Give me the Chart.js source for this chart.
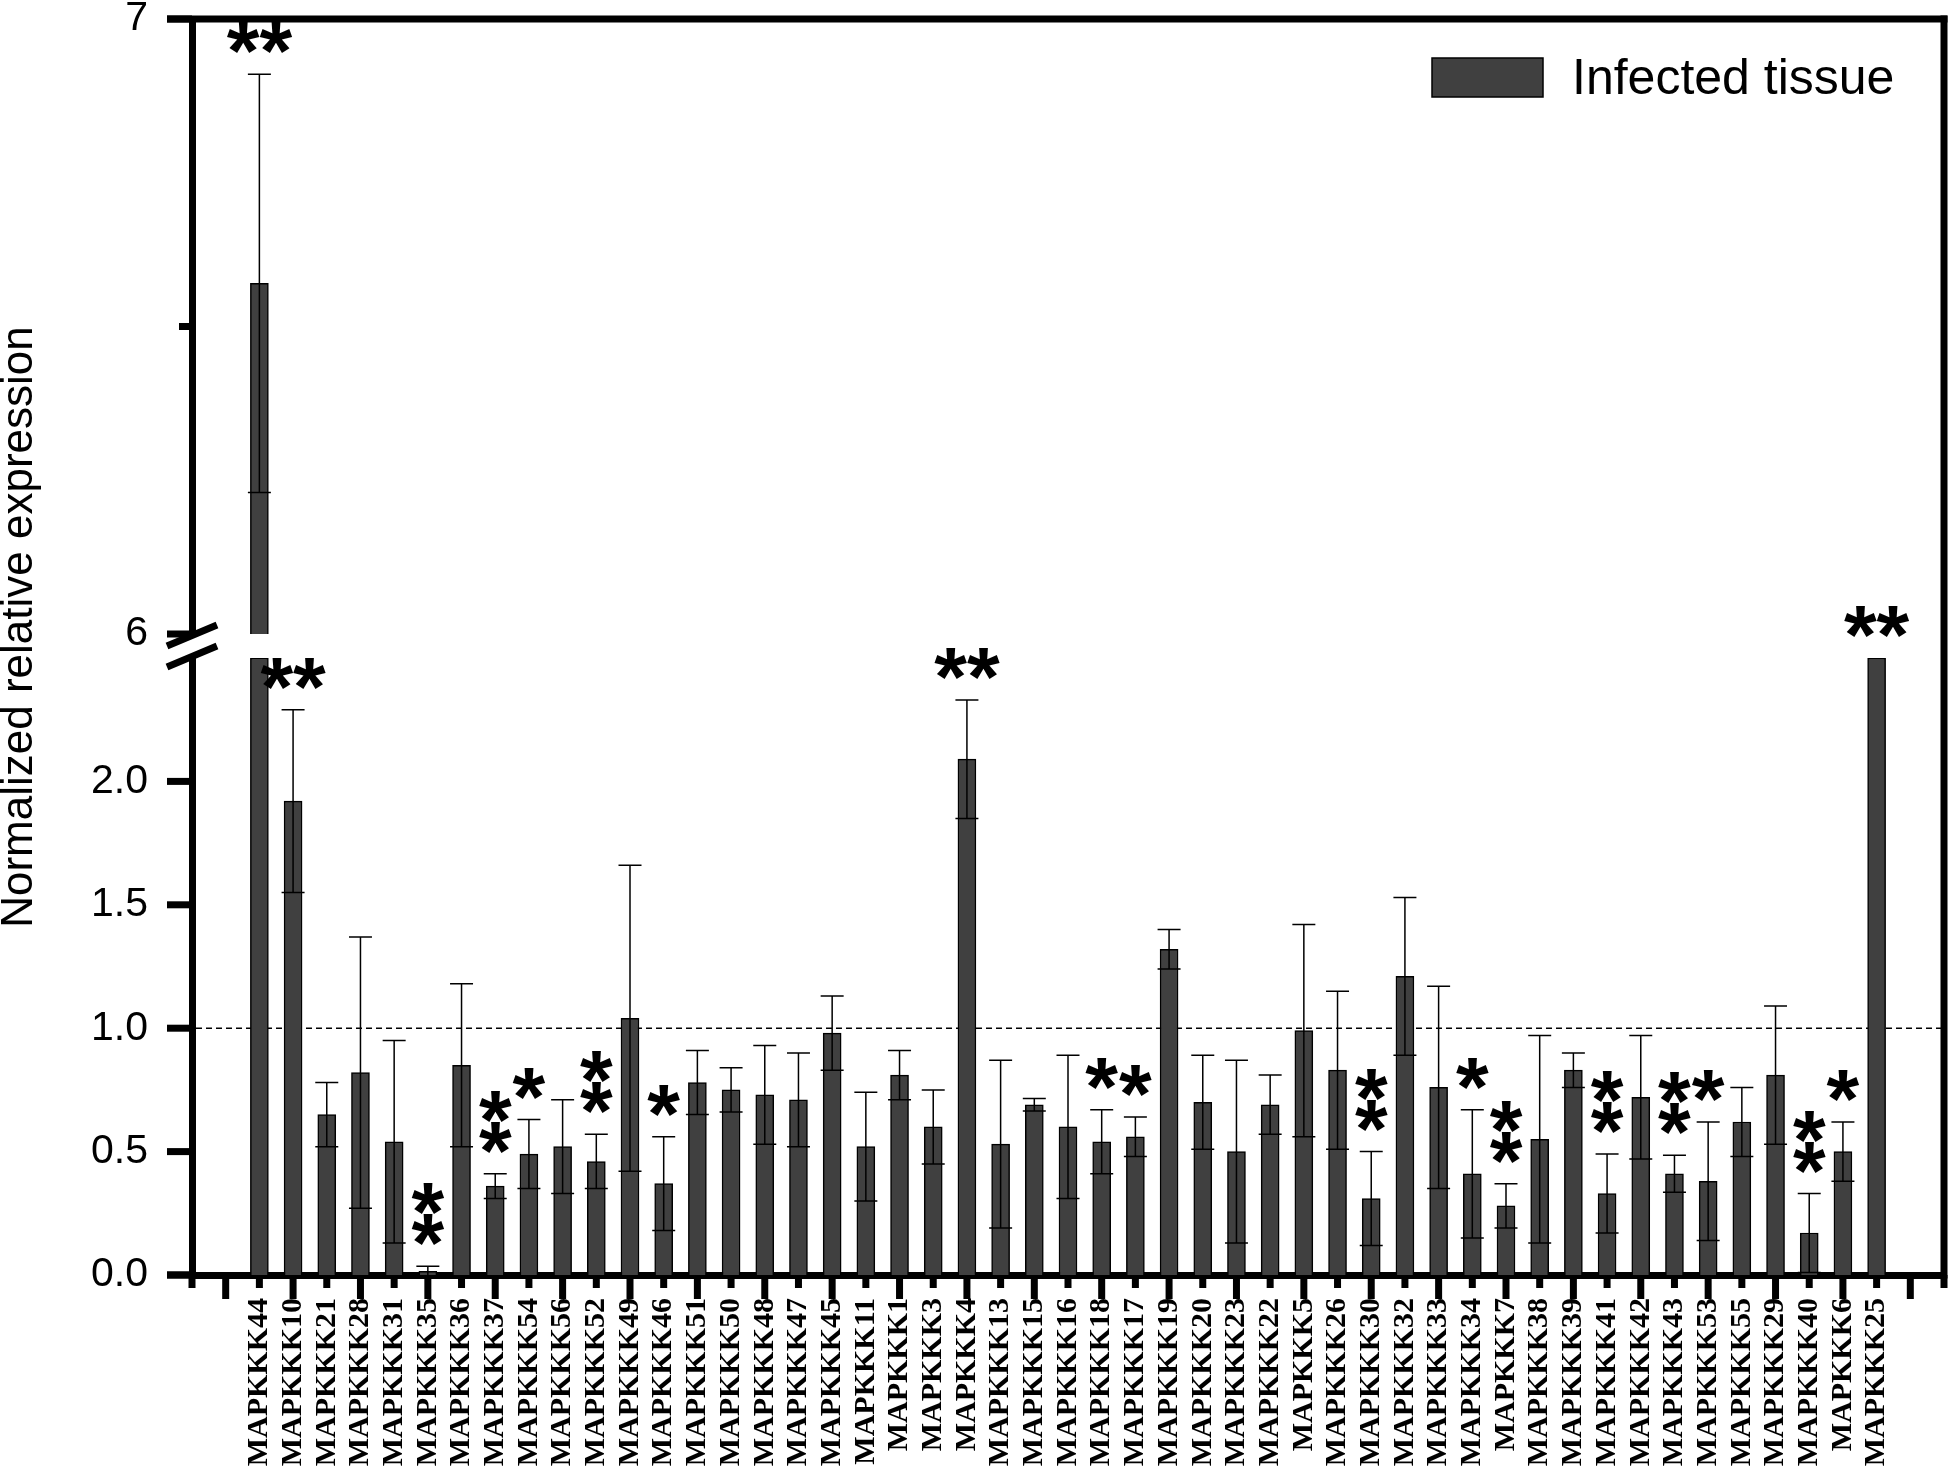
<!DOCTYPE html>
<html lang="en">
  <head>
    <meta charset="UTF-8" />
    <title>MAPKKK expression in infected tissue</title>
    <script src="https://cdn.jsdelivr.net/npm/chart.js"></script>
    <style>
      html, body { margin: 0; padding: 0; background: #fff; overflow: hidden; }
      #wrap { width: 1948px; height: 1500px; }
    </style>
  </head>
  <body>
    <div id="wrap"><canvas id="exprChart" width="1948" height="1500"></canvas></div>
    <script>
      // genes in plotted order
      var genes = [
        "MAPKKK44", "MAPKKK10", "MAPKKK21", "MAPKKK28", "MAPKKK31", "MAPKKK35", "MAPKKK36",
        "MAPKKK37", "MAPKKK54", "MAPKKK56", "MAPKKK52", "MAPKKK49", "MAPKKK46", "MAPKKK51",
        "MAPKKK50", "MAPKKK48", "MAPKKK47", "MAPKKK45", "MAPKKK11", "MAPKKK1", "MAPKKK3",
        "MAPKKK4", "MAPKKK13", "MAPKKK15", "MAPKKK16", "MAPKKK18", "MAPKKK17", "MAPKKK19",
        "MAPKKK20", "MAPKKK23", "MAPKKK22", "MAPKKK5", "MAPKKK26", "MAPKKK30", "MAPKKK32",
        "MAPKKK33", "MAPKKK34", "MAPKKK7", "MAPKKK38", "MAPKKK39", "MAPKKK41", "MAPKKK42",
        "MAPKKK43", "MAPKKK53", "MAPKKK55", "MAPKKK29", "MAPKKK40", "MAPKKK6", "MAPKKK25"
      ];
      // mean normalized expression
      var means = [
        6.57, 1.92, 0.65, 0.82, 0.54, 0.015, 0.85,
        0.36, 0.49, 0.52, 0.46, 1.04, 0.37, 0.78,
        0.75, 0.73, 0.71, 0.98, 0.52, 0.81, 0.6,
        2.09, 0.53, 0.69, 0.6, 0.54, 0.56, 1.32,
        0.7, 0.5, 0.69, 0.99, 0.83, 0.31, 1.21,
        0.76, 0.41, 0.28, 0.55, 0.83, 0.33, 0.72,
        0.41, 0.38, 0.62, 0.81, 0.17, 0.5, 2.9
      ];
      // standard deviation
      var errs = [
        0.34, 0.37, 0.13, 0.55, 0.41, 0.02, 0.33,
        0.05, 0.14, 0.19, 0.11, 0.62, 0.19, 0.13,
        0.09, 0.2, 0.19, 0.15, 0.22, 0.1, 0.15,
        0.24, 0.34, 0.025, 0.29, 0.13, 0.08, 0.08,
        0.19, 0.37, 0.12, 0.43, 0.32, 0.19, 0.32,
        0.41, 0.26, 0.09, 0.42, 0.07, 0.16, 0.25,
        0.075, 0.24, 0.14, 0.28, 0.16, 0.12, 0
      ];
      // significance marks ("\n" = stacked)
      var stars = [
        "**", "**", "", "", "", "*\n*", "",
        "*\n*", "*", "", "*\n*", "", "*", "",
        "", "", "", "", "", "", "",
        "**", "", "", "", "*", "*", "",
        "", "", "", "", "", "*\n*", "",
        "", "*", "*\n*", "", "", "*\n*", "",
        "*\n*", "*", "", "", "*\n*", "*", "**"
      ];
      var lowTicks = [0, 0.5, 1, 1.5, 2];
      var highTicks = [6, 7];

      var LOW_MAX = 2.5;
      var HIGH_MIN = 6;
      var HIGH_MAX = 7;
      var BAR = "#404040";
      var SANS = '"Liberation Sans", Arial, sans-serif';

      Chart.defaults.font.family = SANS;
      Chart.defaults.color = "#000";

      // two empty slots at each end of the x axis
      function pad(arr, fill) {
        return [fill, fill].concat(arr, [fill, fill]);
      }
      var labels = pad(genes, "");
      var lowBars = pad(means.map(function (v) { return Math.min(v, LOW_MAX); }), null);
      var highBars = pad(means.map(function (v) { return v > HIGH_MIN ? v : null; }), null);

      function fixWidth(s) {
        s.width = 192;
        s.paddingTop = 0;
        s.paddingBottom = 0;
      }

      var decor = {
        id: "decor",
        beforeDatasetsDraw: function (chart) {
          var ctx = chart.ctx, a = chart.chartArea;
          var y1 = chart.scales.yLo.getPixelForValue(1);
          ctx.save();
          ctx.strokeStyle = "#000";
          ctx.lineWidth = 1.5;
          ctx.setLineDash([6, 4]);
          ctx.beginPath();
          ctx.moveTo(a.left + 4, y1);
          ctx.lineTo(a.right, y1);
          ctx.stroke();
          ctx.restore();
        },
        afterDatasetsDraw: function (chart) {
          var ctx = chart.ctx;
          var xs = chart.scales.x, lo = chart.scales.yLo, hi = chart.scales.yHi;
          ctx.save();
          ctx.strokeStyle = "#000";
          ctx.fillStyle = "#000";
          ctx.lineWidth = 1.5;
          means.forEach(function (m, k) {
            var x = xs.getPixelForValue(k + 2);
            var e = errs[k];
            [lo, hi].forEach(function (s) {
              var a = Math.max(m - e, s.min), b = Math.min(m + e, s.max);
              if (b <= a) return;
              var pa = s.getPixelForValue(a), pb = s.getPixelForValue(b);
              ctx.beginPath();
              ctx.moveTo(x, pa);
              ctx.lineTo(x, pb);
              if (m - e >= s.min) { ctx.moveTo(x - 11.5, pa); ctx.lineTo(x + 11.5, pa); }
              if (m + e <= s.max) { ctx.moveTo(x - 11.5, pb); ctx.lineTo(x + 11.5, pb); }
              ctx.stroke();
            });
            if (!stars[k]) return;
            var top = m + e;
            var py = top >= HIGH_MIN ? hi.getPixelForValue(top) : lo.getPixelForValue(Math.min(top, LOW_MAX));
            ctx.font = "bold 84px " + SANS;
            ctx.textAlign = "center";
            ctx.textBaseline = "alphabetic";
            var mt = ctx.measureText("*");
            var shift = (mt.actualBoundingBoxAscent - mt.actualBoundingBoxDescent) / 2;
            var rows = stars[k].split("\n");
            rows.forEach(function (r, i) {
              var cy = py - 36 - (rows.length - 1 - i) * 31;
              ctx.fillText(r, x, cy + shift);
            });
          });
          ctx.restore();
        },
        afterDraw: function (chart) {
          var ctx = chart.ctx, a = chart.chartArea;
          var xs = chart.scales.x, lo = chart.scales.yLo, hi = chart.scales.yHi;
          var L = a.left, W = 7;
          ctx.save();
          ctx.fillStyle = "#000";
          // frame: top, right, x axis stub left of the y axis
          ctx.fillRect(L - 25, a.top - W / 2, a.right - L + 25 + W / 2, W);
          ctx.fillRect(a.right - W / 2, a.top - W / 2, W, a.bottom - a.top + W);
          ctx.fillRect(L - 25, a.bottom - W / 2, 25, W);
          // x ticks, alternating short / long
          labels.forEach(function (lab, j) {
            var px = xs.getPixelForValue(j);
            ctx.fillRect(px - W / 2, a.bottom, W, j % 2 ? 24 : 13);
          });
          // y ticks
          lo.ticks.forEach(function (t) {
            if (t.value >= LOW_MAX) return;
            var major = lowTicks.indexOf(t.value) >= 0;
            var py = lo.getPixelForValue(t.value);
            ctx.fillRect(major ? L - 25 : L - 13, py - W / 2, major ? 25 : 13, W);
          });
          hi.ticks.forEach(function (t) {
            var major = highTicks.indexOf(t.value) >= 0;
            var py = hi.getPixelForValue(t.value);
            ctx.fillRect(major ? L - 25 : L - 13, py - W / 2, major ? 25 : 13, W);
          });
          // axis break marks
          var g1 = hi.getPixelForValue(HIGH_MIN), g2 = lo.getPixelForValue(LOW_MAX);
          var mid = (g1 + g2) / 2;
          ctx.strokeStyle = "#000";
          ctx.lineWidth = W;
          ctx.beginPath();
          ctx.moveTo(L - 25, mid);
          ctx.lineTo(L + 25, mid - 21);
          ctx.moveTo(L - 25, mid + 21);
          ctx.lineTo(L + 25, mid);
          ctx.stroke();
          // legend
          ctx.fillStyle = BAR;
          ctx.fillRect(1432, 58, 111, 39);
          ctx.lineWidth = 1.5;
          ctx.strokeRect(1432, 58, 111, 39);
          ctx.fillStyle = "#000";
          ctx.font = "50px " + SANS;
          ctx.textAlign = "left";
          ctx.textBaseline = "alphabetic";
          ctx.fillText(chart.data.datasets[0].label, 1572, 94);
          // y title
          ctx.translate(20, 627);
          ctx.rotate(-Math.PI / 2);
          ctx.font = "44px " + SANS;
          ctx.textAlign = "center";
          ctx.textBaseline = "middle";
          ctx.fillText("Normalized relative expression", 0, 0);
          ctx.restore();
        }
      };

      var ctx = document.getElementById("exprChart").getContext("2d");
      var exprChart = new Chart(ctx, {
        type: "bar",
        data: {
          labels: labels,
          datasets: [
            {
              label: "Infected tissue",
              data: lowBars,
              yAxisID: "yLo",
              backgroundColor: BAR,
              borderColor: "#000",
              borderWidth: 1.5,
              barThickness: 18,
              grouped: false
            },
            {
              label: "Infected tissue (upper)",
              data: highBars,
              yAxisID: "yHi",
              base: HIGH_MIN,
              backgroundColor: BAR,
              borderColor: "#000",
              borderWidth: 1.5,
              barThickness: 18,
              grouped: false
            }
          ]
        },
        options: {
          responsive: false,
          animation: false,
          devicePixelRatio: 1,
          layout: { padding: { top: 19, right: 4, left: 0, bottom: 0 } },
          plugins: { legend: { display: false }, tooltip: { enabled: false } },
          scales: {
            x: {
              type: "category",
              offset: false,
              grid: { display: false, drawTicks: false },
              border: { display: true, width: 7, color: "#000" },
              ticks: {
                autoSkip: false,
                minRotation: 90,
                maxRotation: 90,
                padding: 23,
                color: "#000",
                font: { family: '"Liberation Serif", "Times New Roman", serif', weight: "bold", size: 30 }
              },
              afterFit: function (s) {
                s.height = 225;
                s.paddingLeft = 0;
                s.paddingRight = 0;
              }
            },
            yHi: {
              type: "linear",
              position: "left",
              stack: "y",
              stackWeight: 615,
              weight: 3,
              min: HIGH_MIN,
              max: HIGH_MAX,
              grid: { display: false, drawTicks: false },
              border: { display: true, width: 7, color: "#000" },
              ticks: {
                stepSize: 0.5,
                padding: 44,
                font: { size: 41 },
                callback: function (v) { return highTicks.indexOf(v) >= 0 ? String(v) : ""; }
              },
              afterFit: fixWidth
            },
            yGap: {
              type: "linear",
              position: "left",
              stack: "y",
              stackWeight: 24,
              weight: 2,
              grid: { display: false, drawTicks: false },
              border: { display: false },
              ticks: { display: false },
              afterFit: fixWidth
            },
            yLo: {
              type: "linear",
              position: "left",
              stack: "y",
              stackWeight: 617,
              weight: 1,
              min: 0,
              max: LOW_MAX,
              grid: { display: false, drawTicks: false },
              border: { display: true, width: 7, color: "#000" },
              ticks: {
                stepSize: 0.25,
                padding: 44,
                font: { size: 41 },
                callback: function (v) { return lowTicks.indexOf(v) >= 0 ? v.toFixed(1) : ""; }
              },
              afterFit: fixWidth
            }
          }
        },
        plugins: [decor]
      });
    </script>
  </body>
</html>
